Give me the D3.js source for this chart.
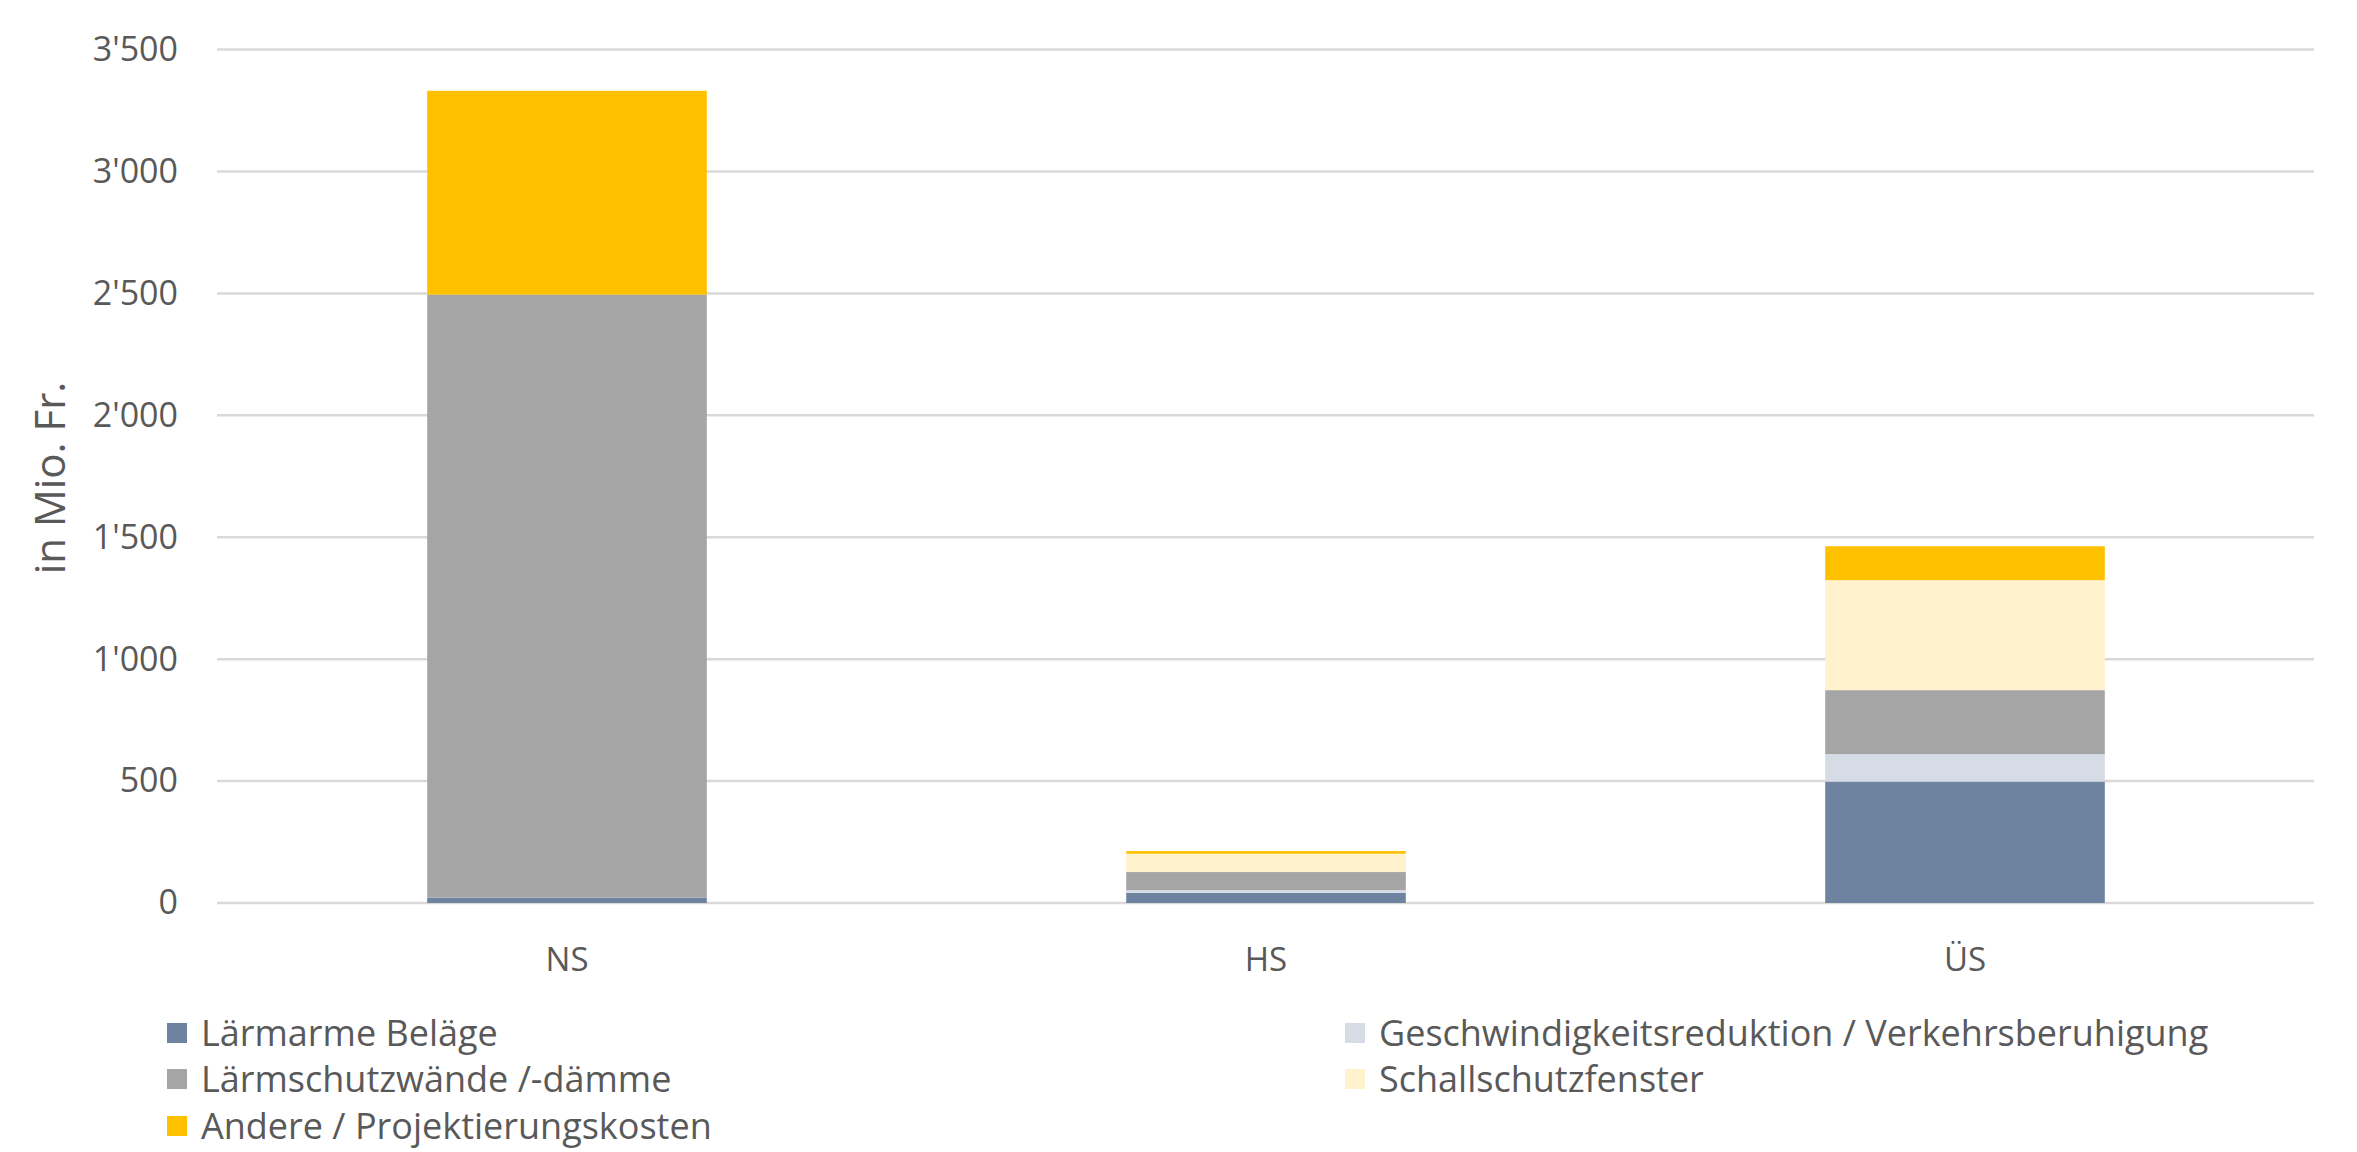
<!DOCTYPE html>
<html><head><meta charset="utf-8">
<script src="https://cdn.jsdelivr.net/npm/d3@7"></script>
<style>body{margin:0;background:#fff}svg{display:block}</style>
</head><body>
<svg id="c" width="2357" height="1152"></svg>
<script>
const categories = ["NS", "HS", "ÜS"];
const seriesNames = ["Lärmarme Beläge", "Geschwindigkeitsreduktion / Verkehrsberuhigung", "Lärmschutzwände /-dämme", "Schallschutzfenster", "Andere / Projektierungskosten"];
const laermarmeBelaege = [22, 41, 498];
const geschwindigkeit = [0, 12, 113];
const laermschutzwaende = [2473, 74, 262];
const schallschutzfenster = [0, 75, 451];
const andere = [836, 11, 139];
const yTicks = [0, 500, 1000, 1500, 2000, 2500, 3000, 3500];
const colors = ["#6D83A0", "#D6DCE5", "#A5A5A5", "#FFF2CC", "#FFC000"];

const seriesValues = [laermarmeBelaege, geschwindigkeit, laermschutzwaende, schallschutzfenster, andere];
const rows = categories.map((c, i) => {
  const r = {cat: c};
  seriesNames.forEach((s, j) => r[s] = seriesValues[j][i]);
  return r;
});
const stack = d3.stack().keys(seriesNames)(rows);

const svg = d3.select("#c");
const x = d3.scaleBand().domain(categories).range([217.5, 2314.5]).paddingInner(0.6).paddingOuter(0.3);
const y = d3.scaleLinear().domain([0, 3500]).range([903, 49.6]);
const textCol = "#595959";
const font = "'Open Sans', sans-serif";

// gridlines
svg.append("g").selectAll("line").data(yTicks).join("line")
  .attr("x1", 217).attr("x2", 2314)
  .attr("y1", d => y(d)).attr("y2", d => y(d))
  .attr("stroke", "#D9D9D9").attr("stroke-width", 2.5);

// y tick labels
const yAxis = d3.axisLeft(y).tickValues(yTicks).tickSize(0).tickPadding(0)
  .tickFormat(d => d3.format(",")(d).replace(/,/g, "'"));
const ya = svg.append("g").attr("transform", "translate(178,0)").call(yAxis);
ya.select(".domain").remove();
ya.selectAll("text").attr("fill", textCol).style("font-family", font).style("font-size", "34px");

// bars
svg.append("g").selectAll("g").data(stack).join("g")
  .attr("fill", (d, i) => colors[i])
  .selectAll("rect").data(d => d).join("rect")
  .attr("x", d => x(d.data.cat))
  .attr("width", x.bandwidth())
  .attr("y", d => y(d[1]))
  .attr("height", d => y(d[0]) - y(d[1]));

// x axis labels
const xAxis = d3.axisBottom(x).tickSize(0).tickPadding(0);
const xa = svg.append("g").attr("transform", "translate(0,959)").call(xAxis);
xa.select(".domain").remove();
xa.selectAll("text").attr("fill", textCol).attr("dy", "0.35em")
  .style("font-family", font).style("font-size", "33px");

// y title
svg.append("text").attr("transform", "translate(50,478) rotate(-90)")
  .attr("text-anchor", "middle").attr("dy", "0.35em")
  .attr("fill", textCol)
  .style("font-family", font).style("font-size", "42px")
  .text("in Mio. Fr.");

// legend
const legX = [167, 1345], legY = [1033, 1079, 1126];
const lg = svg.append("g").selectAll("g").data(seriesNames).join("g")
  .attr("transform", (d, i) => `translate(${legX[i % 2]},${legY[Math.floor(i / 2)]})`);
lg.append("rect").attr("x", 0).attr("y", -10).attr("width", 20).attr("height", 20).attr("fill", (d, i) => colors[i]);
lg.append("text").attr("x", 34).attr("dy", "0.35em").attr("fill", textCol)
  .style("font-family", font).style("font-size", "36px").text(d => d);
</script>
</body></html>
